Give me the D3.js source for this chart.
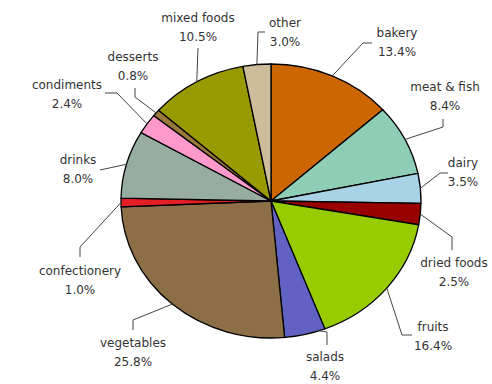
<!DOCTYPE html>
<html>
<head>
<meta charset="utf-8">
<script src="https://cdn.jsdelivr.net/npm/d3@7"></script>
<style>
  html, body { margin: 0; padding: 0; background: #fff; }
  svg { display: block; }
  .lbl { font-family: "DejaVu Sans", sans-serif; font-size: 12px; fill: #333; }
</style>
</head>
<body>
<svg id="chart" width="492" height="384"></svg>
<script>
// Food categories, clockwise from 12 o'clock
const categories = ["bakery", "meat & fish", "dairy", "dried foods", "fruits", "salads",
  "vegetables", "confectionery", "drinks", "condiments", "desserts", "mixed foods", "other"];
const shares = [13.4, 8.4, 3.5, 2.5, 16.4, 4.4, 25.8, 1.0, 8.0, 2.4, 0.8, 10.5, 3.0];
const colors = ["#CC6600", "#8ECDB6", "#A8D2E6", "#990000", "#99CC00", "#6262C4",
  "#8C6E47", "#E31E24", "#98ADA2", "#FF99CC", "#9A7A3A", "#999900", "#CDBD9B"];

// Label placement: text centre, leader bend, leader end, and where along the slice the leader attaches
const labelLayout = [
  { x: 397, y: 33, bend: [363, 43], end: [372, 43] },
  { x: 445, y: 87, bend: [443, 127], end: [443, 119] },
  { x: 463, y: 163, bend: [440, 173], end: [448, 173] },
  { x: 454, y: 263, bend: [452, 237], end: [452, 250] },
  { x: 433, y: 327, bend: [402, 335], end: [412, 335] },
  { x: 325, y: 357, bend: [327, 332], end: [327, 345], at: 0.15 },
  { x: 133, y: 343, bend: [133, 320], end: [133, 330] },
  { x: 80, y: 271, bend: [80, 247], end: [80, 257] },
  { x: 78, y: 160, bend: null, end: [100, 170] },
  { x: 67, y: 85, bend: [117, 93], end: [105, 93] },
  { x: 133, y: 57, bend: [135, 97], end: [135, 88] },
  { x: 198, y: 18, bend: null, end: [198, 48] },
  { x: 285, y: 23, bend: [258, 32], end: [265, 32] }
];

const svg = d3.select("#chart");
const cx = 271, cy = 201, rx = 150, ry = 137;

const data = categories.map((c, i) => ({ name: c, value: shares[i], color: colors[i] }));
const pie = d3.pie().sort(null).value(d => d.value);
const arcs = pie(data);
const arc = d3.arc().innerRadius(0).outerRadius(rx);

// Slightly flattened pie
const g = svg.append("g")
  .attr("transform", `translate(${cx},${cy}) scale(1,${ry / rx})`);

g.selectAll("path")
  .data(arcs)
  .enter().append("path")
  .attr("d", arc)
  .attr("fill", d => d.data.color)
  .attr("stroke", "#000")
  .attr("stroke-width", 1.3)
  .attr("vector-effect", "non-scaling-stroke");

// Point on the ellipse edge at a given angle (0 = top, clockwise)
const edge = a => [cx + rx * Math.sin(a), cy - ry * Math.cos(a)];

const line = d3.line();
arcs.forEach((d, i) => {
  const L = labelLayout[i];
  const t = L.at !== undefined ? L.at : 0.5;
  const a = d.startAngle + (d.endAngle - d.startAngle) * t;
  const pts = [edge(a)];
  if (L.bend) pts.push(L.bend);
  pts.push(L.end);
  svg.append("path")
    .attr("d", line(pts))
    .attr("fill", "none")
    .attr("stroke", "#444")
    .attr("stroke-width", 1);

  const txt = svg.append("text")
    .attr("class", "lbl")
    .attr("text-anchor", "middle");
  txt.append("tspan").attr("x", L.x).attr("y", L.y + 4).text(d.data.name);
  txt.append("tspan").attr("x", L.x).attr("y", L.y + 23).text(d.data.value.toFixed(1) + "%");
});
</script>
</body>
</html>
